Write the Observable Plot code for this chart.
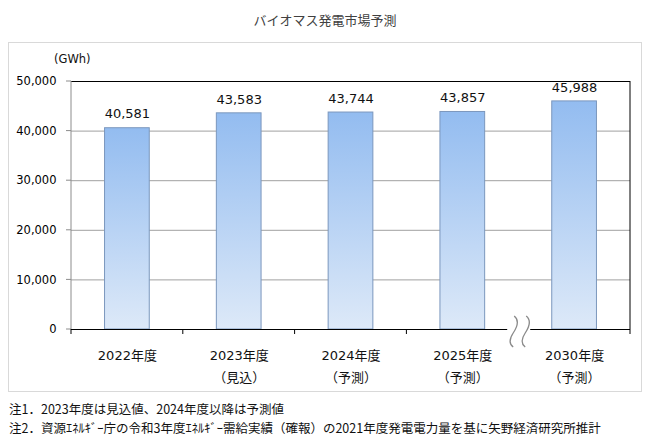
<!DOCTYPE html>
<html><head><meta charset="utf-8">
<script src="https://cdn.jsdelivr.net/npm/d3@7"></script>
<script src="https://cdn.jsdelivr.net/npm/@observablehq/plot@0.6"></script>
<style>
body{margin:0;background:#fff;width:650px;height:440px;position:relative;overflow:hidden;font-family:"DejaVu Sans","Noto Sans CJK JP",sans-serif;color:#000;}
#title{position:absolute;left:0;width:650px;top:10px;text-align:center;font-size:13px;color:#404040;font-family:"Noto Sans CJK JP",sans-serif;line-height:20px;}
#box{position:absolute;left:8px;top:42px;width:632px;height:348px;border:1px solid #d9d9d9;}
#chart{position:absolute;left:8px;top:42px;}
#unit{position:absolute;left:54px;top:50px;font-size:11.5px;font-family:"DejaVu Sans",sans-serif;line-height:18px;color:#111;}
#notes{position:absolute;left:9px;top:399px;font-size:12.5px;line-height:19px;font-family:"Noto Sans CJK JP",sans-serif;color:#111;white-space:nowrap;}
</style></head>
<body>
<svg width="0" height="0" style="position:absolute">
  <defs>
    <linearGradient id="barGrad" x1="0" y1="0" x2="0" y2="1">
      <stop offset="0" stop-color="#93bcf0"/>
      <stop offset="1" stop-color="#dde9f8"/>
    </linearGradient>
  </defs>
</svg>
<div id="title"></div>
<div id="box"></div>
<div id="unit"></div>
<div id="chart"></div>
<div id="notes"></div>
<script>
const titleText = "バイオマス発電市場予測";
const unitText = "(GWh)";
const categories = ["2022年度", "2023年度", "2024年度", "2025年度", "2030年度"];
const subLabels = ["", "（見込）", "（予測）", "（予測）", "（予測）"];
const values = [40581, 43583, 43744, 43857, 45988];
const yTicks = [0, 10000, 20000, 30000, 40000, 50000];
const breakBefore = ["2030年度"];
const notes = [
  "注1．2023年度は見込値、2024年度以降は予測値",
  "注2．資源ｴﾈﾙｷﾞｰ庁の令和3年度ｴﾈﾙｷﾞｰ需給実績（確報）の2021年度発電電力量を基に矢野経済研究所推計"
];

document.getElementById("title").textContent = titleText;
document.getElementById("unit").textContent = unitText;
document.getElementById("notes").innerHTML = notes.map(n => `<div>${n}</div>`).join("");

const data = categories.map((c, i) => ({cat: c, value: values[i], label: subLabels[i] ? c + "\n" + subLabels[i] : c}));
const fmt = d3.format(",");
const numFont = "DejaVu Sans";

function decorations(index, scales, vals, dims) {
  const {width, height, marginLeft, marginRight, marginTop, marginBottom} = dims;
  const x = scales.x, y = scales.y;
  const n = categories.length;
  const step = (width - marginLeft - marginRight) / n;
  const bw = typeof x.bandwidth === "function" ? x.bandwidth() : step * 0.4;
  const off = (step - bw) / 2;
  const y0 = y(0), yTop = y(yTicks[yTicks.length - 1]);
  const left = x(categories[0]) - off;
  const right = x(categories[n - 1]) + bw + off;
  const g = d3.create("svg:g");
  g.append("line").attr("x1", left).attr("x2", left).attr("y1", yTop).attr("y2", y0)
    .attr("stroke", "#8c8c8c");
  for (const t of yTicks) {
    g.append("line").attr("x1", left - 5).attr("x2", left).attr("y1", y(t)).attr("y2", y(t))
      .attr("stroke", "#8c8c8c");
  }
  g.append("line").attr("x1", right).attr("x2", right).attr("y1", yTop).attr("y2", y0)
    .attr("stroke", "#000");
  for (let i = 0; i <= n; i++) {
    const bx = i < n ? x(categories[i]) - off : right;
    if (i < n && breakBefore.includes(categories[i])) continue;
    g.append("line").attr("x1", bx).attr("x2", bx).attr("y1", y0).attr("y2", y0 + 5)
      .attr("stroke", "#000");
  }
  for (const c of breakBefore) {
    const cx = x(c) - off + 1, cy = y0 + 2;
    g.append("rect").attr("x", cx - 12).attr("y", y0 - 3).attr("width", 23).attr("height", 9).attr("fill", "#fff");
    const s = (o) => {
      const a = cx + o;
      return `M${a},${cy - 15} C${a + 5},${cy - 11} ${a + 3},${cy - 4} ${a - 1},${cy + 2} S${a - 5},${cy + 13} ${a - 1},${cy + 16}`;
    };
    g.append("path").attr("d", s(-5)).attr("fill", "none").attr("stroke", "#8a8a8a").attr("stroke-width", 1.3);
    g.append("path").attr("d", s(7)).attr("fill", "none").attr("stroke", "#8a8a8a").attr("stroke-width", 1.3);
  }
  return g.node();
}

const plot = Plot.plot({
  width: 634,
  height: 350,
  marginLeft: 63,
  marginRight: 12,
  marginTop: 39,
  marginBottom: 63,
  style: {background: "transparent", fontFamily: "DejaVu Sans, Noto Sans CJK JP, sans-serif", color: "#000"},
  x: {domain: categories, paddingInner: 0.6, paddingOuter: 0.3, round: false, axis: null},
  y: {domain: [0, 50000], ticks: yTicks, tickFormat: fmt, tickSize: 0, tickPadding: 15, label: null},
  marks: [
    Plot.ruleY(yTicks.filter(t => t > 0 && t < 50000), {stroke: "#a0a0a0", strokeOpacity: 1}),
    Plot.barY(data, {x: "cat", y: "value", fill: "url(#barGrad)", stroke: "#7b97bd", strokeWidth: 1}),
    Plot.ruleY([0], {stroke: "#000"}),
    Plot.ruleY([50000], {stroke: "#000"}),
    decorations,
    Plot.text(data, {x: "cat", y: "value", text: d => fmt(d.value), dy: -14, fontSize: 13, fontFamily: numFont, fill: "#111"}),
    Plot.text(data, {x: "cat", text: "label", frameAnchor: "bottom", lineAnchor: "top", dy: 16, fontSize: 13, lineHeight: 1.62, fill: "#111"})
  ]
});
d3.select(plot).selectAll("g[aria-label='y-axis tick label'] text, g[aria-label='y-axis'] text").style("font-size", "11.5px");
document.getElementById("chart").appendChild(plot);
</script>
</body></html>
